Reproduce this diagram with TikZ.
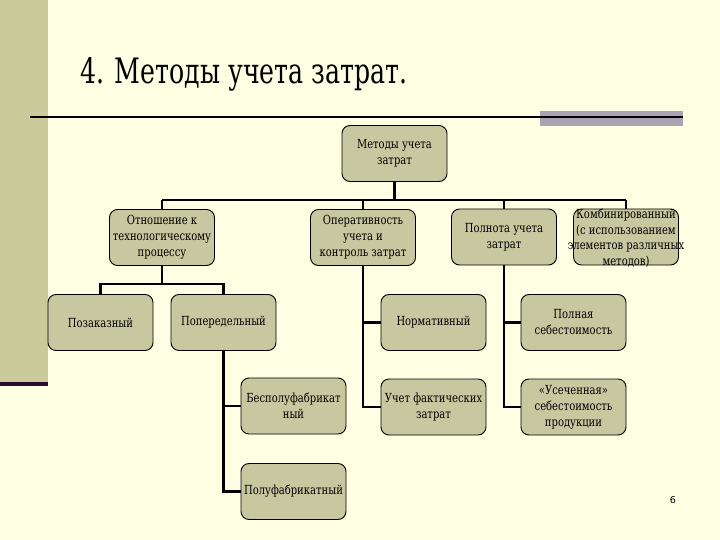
\documentclass[tikz,border=0pt]{standalone}
\usepackage{fontspec}
\setmainfont{DejaVu Serif}
\newfontfamily\serifx{DejaVu Serif}[FakeStretch=0.8]
\newfontfamily\titlefont{DejaVu Serif}[FakeStretch=0.72]
\newfontfamily\numfont{DejaVu Sans}
\definecolor{bg}{HTML}{FEFEE2}
\definecolor{barc}{HTML}{CACA9A}
\definecolor{barline}{HTML}{2A0C30}
\definecolor{boxfill}{HTML}{C8C8A0}
\definecolor{grayrect}{HTML}{A9A3B4}
\tikzset{
  box/.style={draw=black, line width=0.9pt, fill=boxfill, rounded corners=8pt,
    minimum width=105pt, minimum height=56pt, align=center, inner sep=1pt,
    font=\serifx\fontsize{12.5}{16}\selectfont},
  conn/.style={draw=black, line width=2.2pt},
  lbl/.style={align=center, inner sep=0pt, font=\serifx\fontsize{12.5}{15.5}\selectfont}
}
\begin{document}
\begin{tikzpicture}[x=1pt,y=-1pt]
\useasboundingbox (0,0) rectangle (720,540);
\fill[bg] (0,0) rectangle (720,540);
\fill[barc] (0,0) rectangle (48,382);
\fill[barline] (0,382) rectangle (48,386);
\fill[grayrect] (540,111) rectangle (683,126);
\draw[black, line width=2pt] (30,117) -- (683,117);
\node[anchor=base west, inner sep=0pt, font=\titlefont\fontsize{35}{40}\selectfont] (title) at (80,84) {4. Методы учета затрат.};

\node[box] (root) at (394.5,153.5) {Методы учета\\затрат};
\node[box] (otn) at (162,237.5) {Отношение к\\технологическому\\процессу};
\node[box] (oper) at (363,237.5) {Оперативность\\учета и\\контроль затрат};
\node[box] (poln) at (504,237) {Полнота учета\\затрат};
\node[box] (komb) at (626,237) {};
\node[lbl] (kombt) at (626,238) {Комбинированный\\(с использованием\\элементов различных\\методов)};

\node[box] (poz) at (100.5,322.5) {Позаказный};
\node[box] (pop) at (223.5,322.5) {Попередельный};
\node[box] (norm) at (433.5,322.5) {Нормативный};
\node[box] (fakt) at (433.5,407) {Учет фактических\\затрат};
\node[box] (full) at (573.5,322.5) {Полная\\себестоимость};
\node[box] (usech) at (573.5,407) {«Усеченная»\\себестоимость\\продукции};
\node[box] (bes) at (293.5,406) {Бесполуфабрикат\\ный};
\node[box] (polu) at (293.5,491.5) {Полуфабрикатный};

\coordinate (bus) at (394.5,200);
\coordinate (sb) at (162,284);

\draw[conn] (root.south) -- (root.south |- bus);
\draw[conn] (otn.north |- bus) -- (komb.north |- bus);
\draw[conn] (otn.north) -- (otn.north |- bus);
\draw[conn] (oper.north) -- (oper.north |- bus);
\draw[conn] (poln.north) -- (poln.north |- bus);
\draw[conn] (komb.north) -- (komb.north |- bus);

\draw[conn] (otn.south) -- (sb);
\draw[conn] (poz.north) |- (sb) -| (pop.north);

\draw[conn] (oper.south) |- (fakt.west);
\draw[conn] (oper.south |- norm.west) -- (norm.west);
\draw[conn] (poln.south) |- (usech.west);
\draw[conn] (poln.south |- full.west) -- (full.west);
\draw[conn] (pop.south) |- (polu.west);
\draw[conn] (pop.south |- bes.west) -- (bes.west);

\node[font=\numfont\fontsize{9.5}{12}\selectfont, inner sep=0pt] (pnum) at (673,500) {6};
\end{tikzpicture}
\end{document}
